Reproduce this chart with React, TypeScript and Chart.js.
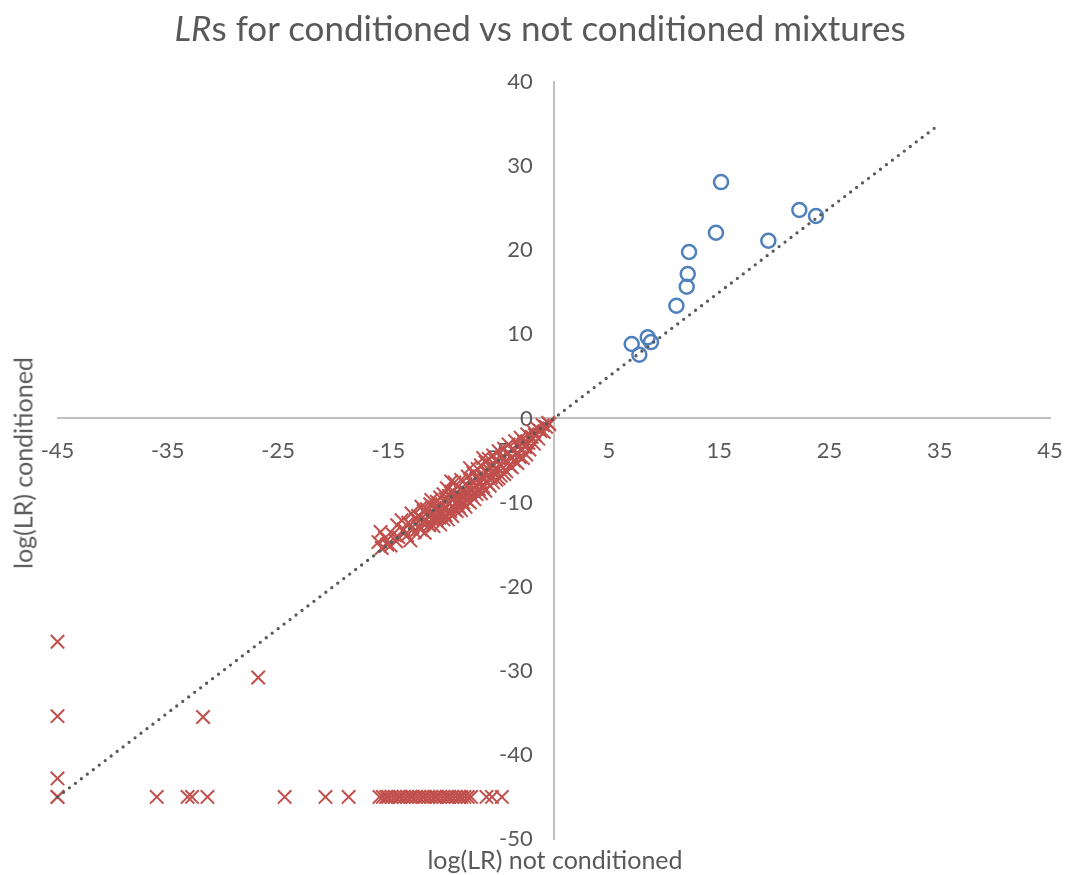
import React, { useEffect, useRef } from "react";
import { Chart, registerables } from "chart.js";

Chart.register(...registerables);

// Axis tick values
const X_TICKS = [-45, -35, -25, -15, -5, 5, 15, 25, 35, 45];
const Y_TICKS = [-50, -40, -30, -20, -10, 0, 10, 20, 30, 40];

// Equality (y = x) reference line end points
const lineX = [-45, 35];
const lineY = [-45, 35];

// Blue circles: [log(LR) not conditioned, log(LR) conditioned]
const circlePoints: [number, number][] = [
  [7.07, 8.85], [7.76, 7.58], [8.52, 9.64], [8.82, 9.08], [11.12, 13.4],
  [12.06, 15.66], [12.15, 17.17], [12.27, 19.79], [14.71, 22.08], [15.17, 28.1],
  [19.46, 21.13], [22.27, 24.78], [23.78, 24.07],
];

// Red crosses: main band along the diagonal
const bandPoints: [number, number][] = [
  [-15.9, -14.7], [-15.7, -13.5], [-15.6, -15.4], [-15.3, -14.2], [-15.1, -15.0],
  [-14.8, -15.1], [-14.6, -13.8], [-14.3, -14.6], [-14.2, -12.7], [-14.1, -14.1],
  [-13.8, -12.1], [-13.6, -13.2], [-13.3, -13.9], [-13.2, -12.4], [-13.0, -14.5],
  [-12.9, -11.3], [-12.8, -12.9], [-12.6, -13.5], [-12.5, -12.0], [-12.3, -11.6],
  [-12.2, -12.8], [-12.1, -13.2], [-12.0, -10.5], [-12.0, -11.9], [-11.9, -12.4],
  [-11.8, -11.0], [-11.7, -13.6], [-11.6, -12.1], [-11.5, -10.8], [-11.4, -11.6],
  [-11.3, -12.7], [-11.2, -10.2], [-11.1, -9.7], [-11.1, -11.3], [-11.0, -12.0],
  [-10.9, -12.8], [-10.8, -10.6], [-10.7, -11.5], [-10.6, -9.9], [-10.6, -12.2],
  [-10.5, -10.9], [-10.4, -11.8], [-10.3, -9.4], [-10.3, -12.6], [-10.2, -10.3],
  [-10.1, -11.1], [-10.0, -9.0], [-10.0, -12.0], [-9.9, -10.7], [-9.8, -9.6],
  [-9.8, -11.5], [-9.7, -8.3], [-9.6, -12.0], [-9.5, -10.1], [-9.5, -9.2],
  [-9.4, -11.0], [-9.3, -8.7], [-9.3, -7.5], [-9.2, -10.4], [-9.2, -11.6],
  [-9.1, -9.5], [-9.0, -7.6], [-9.0, -10.8], [-8.9, -8.9], [-8.8, -11.0],
  [-8.7, -9.9], [-8.7, -8.1], [-8.6, -10.5], [-8.5, -9.2], [-8.4, -7.3],
  [-8.4, -10.9], [-8.3, -8.6], [-8.2, -10.0], [-8.1, -9.4], [-8.0, -7.8],
  [-8.0, -10.5], [-7.9, -8.8], [-7.8, -6.9], [-7.8, -9.8], [-7.7, -8.2],
  [-7.6, -10.0], [-7.6, -5.9], [-7.5, -9.1], [-7.4, -7.4], [-7.4, -8.6],
  [-7.3, -6.5], [-7.2, -9.6], [-7.1, -8.0], [-7.0, -7.1], [-7.0, -9.0],
  [-6.9, -6.0], [-6.8, -8.4], [-6.7, -7.5], [-6.6, -5.6], [-6.6, -8.9],
  [-6.5, -6.8], [-6.4, -8.1], [-6.4, -4.7], [-6.3, -7.2], [-6.2, -5.2],
  [-6.2, -8.6], [-6.1, -6.5], [-6.0, -7.7], [-5.9, -4.8], [-5.9, -6.1],
  [-5.8, -8.0], [-5.7, -7.0], [-5.6, -5.6], [-5.5, -4.4], [-5.5, -7.6],
  [-5.4, -6.4], [-5.3, -5.0], [-5.2, -7.3], [-5.1, -6.0], [-5.0, -3.9],
  [-5.0, -7.1], [-4.9, -5.4], [-4.8, -6.8], [-4.7, -4.6], [-4.6, -5.9],
  [-4.5, -6.6], [-4.5, -3.6], [-4.4, -5.1], [-4.3, -6.3], [-4.2, -4.2],
  [-4.1, -3.1], [-4.0, -5.6], [-3.9, -4.7], [-3.8, -5.8], [-3.7, -3.6],
  [-3.6, -5.0], [-3.5, -2.7], [-3.4, -4.2], [-3.3, -5.3], [-3.2, -3.3],
  [-3.1, -4.6], [-3.0, -2.3], [-2.9, -3.8], [-2.8, -4.7], [-2.7, -2.8],
  [-2.6, -3.4], [-2.5, -4.3], [-2.4, -1.9], [-2.3, -2.9], [-2.2, -3.7],
  [-2.0, -2.2], [-1.9, -1.5], [-1.8, -3.0], [-1.7, -2.0], [-1.5, -1.2],
  [-1.4, -2.4], [-1.2, -1.5], [-1.0, -0.8], [-0.9, -1.6], [-0.7, -1.0],
  [-0.5, -0.5], [-0.4, -0.7],
];

// Red crosses: floor row at log(LR) conditioned = -45
const floorX = [
  -45, -45, -36.0, -33.2, -32.8, -31.4, -24.4, -20.7, -18.6,
  -15.8, -15.5, -15.2, -15.0, -14.7, -14.4, -14.1, -13.9, -13.6, -13.3,
  -13.0, -12.8, -12.5, -12.2, -11.9, -11.7, -11.4, -11.1, -10.8, -10.6,
  -10.3, -10.0, -9.7, -9.5, -9.2, -8.9, -8.6, -8.4, -8.1, -7.8, -7.5,
  -6.1, -5.6, -4.7,
];
const floorY = -45;

// Red crosses: remaining scattered points
const scatteredPoints: [number, number][] = [
  [-45, -26.55], [-45, -35.4], [-45, -42.8], [-31.8, -35.5], [-26.8, -30.8],
];

const TEXT_COLOR = "#595959";
const FONT = "Lato, 'Noto Sans', sans-serif";

export default function App() {
  const ref = useRef<HTMLCanvasElement>(null);

  useEffect(() => {
    document.body.style.margin = "0";
    const toXY = (arr: [number, number][]) => arr.map(([x, y]) => ({ x, y }));
    const crosses = [
      ...toXY(bandPoints),
      ...floorX.map((x) => ({ x, y: floorY })),
      ...toXY(scatteredPoints),
    ];
    const line = lineX.map((x, i) => ({ x, y: lineY[i] }));
    const noOverhang = (s: any) => {
      s.paddingLeft = 0;
      s.paddingRight = 0;
      s.paddingTop = 0;
      s.paddingBottom = 0;
    };

    const chart = new Chart(ref.current!, {
      type: "scatter",
      data: {
        datasets: [
          {
            label: "y = x",
            data: line,
            showLine: true,
            borderColor: "#595959",
            borderWidth: 3.3,
            borderDash: [0, 7.5],
            borderCapStyle: "round",
            pointRadius: 0,
            pointHoverRadius: 0,
            clip: false,
          } as any,
          {
            label: "Crosses",
            data: crosses,
            pointStyle: "crossRot",
            pointRadius: 9.5,
            pointHoverRadius: 9.5,
            pointBorderWidth: 2,
            borderColor: "#C0504D",
            backgroundColor: "#C0504D",
            clip: false,
          } as any,
          {
            label: "Circles",
            data: toXY(circlePoints),
            pointStyle: "circle",
            pointRadius: 7,
            pointHoverRadius: 7,
            pointBorderWidth: 2.5,
            borderColor: "#4F81BD",
            backgroundColor: "rgba(0,0,0,0)",
            clip: false,
          } as any,
        ],
      },
      options: {
        responsive: false,
        animation: false,
        events: [],
        layout: { padding: { left: 57.5, right: 18, top: 82, bottom: 36 } },
        plugins: {
          legend: { display: false },
          title: { display: false },
          tooltip: { enabled: false },
        },
        scales: {
          x: {
            type: "linear",
            position: { y: 0 } as any,
            min: -45,
            max: 45,
            afterBuildTicks: (s: any) => {
              s.ticks = X_TICKS.map((v) => ({ value: v }));
            },
            afterFit: noOverhang,
            grid: { display: false, drawTicks: false },
            border: { display: true, color: "#BFBFBF", width: 2 },
            ticks: {
              color: TEXT_COLOR,
              font: { family: FONT, size: 22 },
              padding: 19,
              maxRotation: 0,
              autoSkip: false,
            },
          },
          y: {
            type: "linear",
            position: "center",
            min: -50,
            max: 40,
            afterBuildTicks: (s: any) => {
              s.ticks = Y_TICKS.map((v) => ({ value: v }));
            },
            afterFit: noOverhang,
            grid: { display: false, drawTicks: false },
            border: { display: true, color: "#BFBFBF", width: 2 },
            ticks: {
              color: TEXT_COLOR,
              font: { family: FONT, size: 22 },
              padding: 21,
              autoSkip: false,
            },
          },
        },
      },
    });
    return () => chart.destroy();
  }, []);

  return (
    <div style={{ position: "relative", width: 1068, height: 875, background: "#fff", overflow: "hidden" }}>
      <canvas ref={ref} width={1068} height={875} style={{ position: "absolute", left: 0, top: 0 }} />
      <div
        style={{
          position: "absolute", left: 540, top: 10, transform: "translateX(-50%)",
          fontFamily: FONT, fontSize: 35, lineHeight: "35px", color: TEXT_COLOR, whiteSpace: "nowrap",
        }}
      >
        <i>LR</i>s for conditioned vs not conditioned mixtures
      </div>
      <div
        style={{
          position: "absolute", left: 555, top: 859, transform: "translate(-50%, -50%)",
          fontFamily: FONT, fontSize: 25, lineHeight: "25px", color: TEXT_COLOR, whiteSpace: "nowrap",
        }}
      >
        log(LR) not conditioned
      </div>
      <div
        style={{
          position: "absolute", left: 23, top: 463, transform: "translate(-50%, -50%) rotate(-90deg)",
          fontFamily: FONT, fontSize: 25, lineHeight: "25px", color: TEXT_COLOR, whiteSpace: "nowrap",
        }}
      >
        log(LR) conditioned
      </div>
    </div>
  );
}
